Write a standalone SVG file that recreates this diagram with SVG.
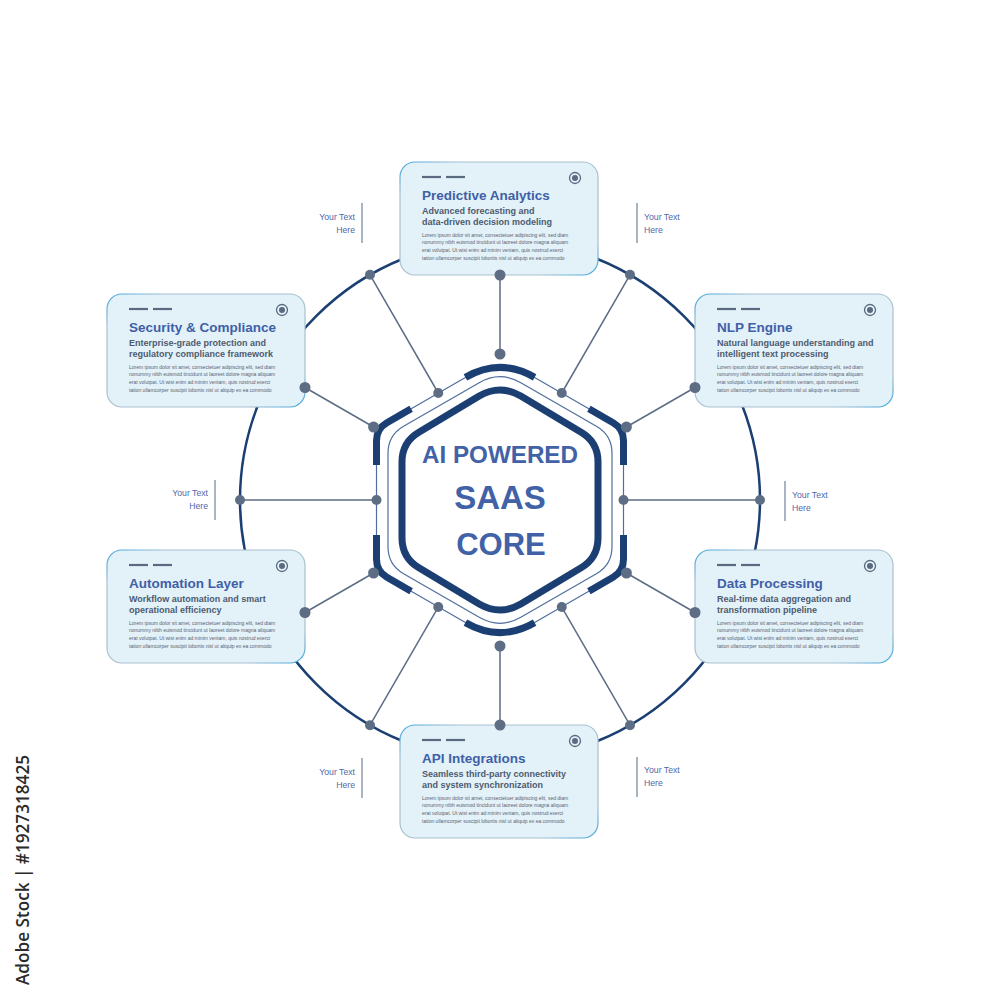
<svg xmlns="http://www.w3.org/2000/svg" width="1000" height="1000" viewBox="0 0 1000 1000">
  <defs>
    <linearGradient id="cardEdge" x1="0" y1="0" x2="1" y2="1">
      <stop offset="0" stop-color="#3aa3de"/>
      <stop offset="0.15" stop-color="#a9c1cf"/>
      <stop offset="0.85" stop-color="#a9c1cf"/>
      <stop offset="1" stop-color="#3aa3de"/>
    </linearGradient>
  </defs>
  <style>
    .ring-big { fill: none; stroke: #1b3f73; stroke-width: 2.5; }
    .card { fill: #e3f1f8; stroke: url(#cardEdge); stroke-width: 1.2; }
    .dash { stroke: #5a6a80; stroke-width: 2.2; }
    .icon-ring { fill: none; stroke: #5a6a80; stroke-width: 1.3; }
    .icon-dot { fill: #5a6a80; }
    .title { font-family: "Liberation Sans", Arial, sans-serif; font-weight: bold; font-size: 13.5px; fill: #3f5fa7; }
    .sub { font-family: "Liberation Sans", Arial, sans-serif; font-weight: bold; font-size: 9px; fill: #4d5b70; }
    .lorem { font-family: "Liberation Sans", Arial, sans-serif; font-size: 5px; fill: #5b6372; }
    .conn { stroke: #5c6d85; stroke-width: 1.5; fill: none; }
    .dot { fill: #5d6d84; }
    .hex-thick { fill: none; stroke: #1b3f73; stroke-width: 7; stroke-linejoin: round; }
    .hex-thin { fill: none; stroke: #4f6e9e; stroke-width: 1.2; }
    .seg { fill: none; stroke: #1b3f73; stroke-width: 7; stroke-linecap: butt; stroke-linejoin: round; }
    .core { font-family: "Liberation Sans", Arial, sans-serif; font-weight: bold; fill: #4262a8; text-anchor: middle; }
    .yt { font-family: "Liberation Sans", Arial, sans-serif; font-size: 8.7px; fill: #4f68aa; }
    .yt-r { text-anchor: end; }
    .bar { stroke: #8d9bb0; stroke-width: 1.5; }
    .wm { font-family: "Open Sans", "DejaVu Sans", sans-serif; font-size: 18px; font-weight: 600; fill: #2b2b2b; }
  </style>

  <rect width="1000" height="1000" fill="#ffffff"/>

  <!-- outer ring (behind cards) -->
  <g id="ring">
    <circle class="ring-big" cx="500" cy="500" r="260"/>
  </g>

  <!-- nodes: cards -->
  <g id="node-predictive" transform="translate(400,162)">
    <rect class="card" x="0" y="0" width="198" height="113" rx="15"/>
    <line class="dash" x1="22" y1="15" x2="41" y2="15"/>
    <line class="dash" x1="46" y1="15" x2="65" y2="15"/>
    <circle class="icon-ring" cx="175" cy="16" r="5.5"/>
    <circle class="icon-dot" cx="175" cy="16" r="3"/>
    <text class="title" x="22" y="37.5">Predictive Analytics</text>
    <text class="sub" x="22" y="52">Advanced forecasting and</text>
    <text class="sub" x="22" y="62.5">data-driven decision modeling</text>
    <text class="lorem" x="22" y="74.5">Lorem ipsum dolor sit amet, consectetuer adipiscing elit, sed diam</text>
    <text class="lorem" x="22" y="82.2">nonummy nibh euismod tincidunt ut laoreet dolore magna aliquam</text>
    <text class="lorem" x="22" y="89.9">erat volutpat. Ut wisi enim ad minim veniam, quis nostrud exerci</text>
    <text class="lorem" x="22" y="97.6">tation ullamcorper suscipit lobortis nisl ut aliquip ex ea commodo</text>
  </g>

  <g id="node-security" transform="translate(107,294)">
    <rect class="card" x="0" y="0" width="198" height="113" rx="15"/>
    <line class="dash" x1="22" y1="15" x2="41" y2="15"/>
    <line class="dash" x1="46" y1="15" x2="65" y2="15"/>
    <circle class="icon-ring" cx="175" cy="16" r="5.5"/>
    <circle class="icon-dot" cx="175" cy="16" r="3"/>
    <text class="title" x="22" y="37.5">Security &amp; Compliance</text>
    <text class="sub" x="22" y="52">Enterprise-grade protection and</text>
    <text class="sub" x="22" y="62.5">regulatory compliance framework</text>
    <text class="lorem" x="22" y="74.5">Lorem ipsum dolor sit amet, consectetuer adipiscing elit, sed diam</text>
    <text class="lorem" x="22" y="82.2">nonummy nibh euismod tincidunt ut laoreet dolore magna aliquam</text>
    <text class="lorem" x="22" y="89.9">erat volutpat. Ut wisi enim ad minim veniam, quis nostrud exerci</text>
    <text class="lorem" x="22" y="97.6">tation ullamcorper suscipit lobortis nisl ut aliquip ex ea commodo</text>
  </g>

  <g id="node-nlp" transform="translate(695,294)">
    <rect class="card" x="0" y="0" width="198" height="113" rx="15"/>
    <line class="dash" x1="22" y1="15" x2="41" y2="15"/>
    <line class="dash" x1="46" y1="15" x2="65" y2="15"/>
    <circle class="icon-ring" cx="175" cy="16" r="5.5"/>
    <circle class="icon-dot" cx="175" cy="16" r="3"/>
    <text class="title" x="22" y="37.5">NLP Engine</text>
    <text class="sub" x="22" y="52">Natural language understanding and</text>
    <text class="sub" x="22" y="62.5">intelligent text processing</text>
    <text class="lorem" x="22" y="74.5">Lorem ipsum dolor sit amet, consectetuer adipiscing elit, sed diam</text>
    <text class="lorem" x="22" y="82.2">nonummy nibh euismod tincidunt ut laoreet dolore magna aliquam</text>
    <text class="lorem" x="22" y="89.9">erat volutpat. Ut wisi enim ad minim veniam, quis nostrud exerci</text>
    <text class="lorem" x="22" y="97.6">tation ullamcorper suscipit lobortis nisl ut aliquip ex ea commodo</text>
  </g>

  <g id="node-automation" transform="translate(107,550)">
    <rect class="card" x="0" y="0" width="198" height="113" rx="15"/>
    <line class="dash" x1="22" y1="15" x2="41" y2="15"/>
    <line class="dash" x1="46" y1="15" x2="65" y2="15"/>
    <circle class="icon-ring" cx="175" cy="16" r="5.5"/>
    <circle class="icon-dot" cx="175" cy="16" r="3"/>
    <text class="title" x="22" y="37.5">Automation Layer</text>
    <text class="sub" x="22" y="52">Workflow automation and smart</text>
    <text class="sub" x="22" y="62.5">operational efficiency</text>
    <text class="lorem" x="22" y="74.5">Lorem ipsum dolor sit amet, consectetuer adipiscing elit, sed diam</text>
    <text class="lorem" x="22" y="82.2">nonummy nibh euismod tincidunt ut laoreet dolore magna aliquam</text>
    <text class="lorem" x="22" y="89.9">erat volutpat. Ut wisi enim ad minim veniam, quis nostrud exerci</text>
    <text class="lorem" x="22" y="97.6">tation ullamcorper suscipit lobortis nisl ut aliquip ex ea commodo</text>
  </g>

  <g id="node-data" transform="translate(695,550)">
    <rect class="card" x="0" y="0" width="198" height="113" rx="15"/>
    <line class="dash" x1="22" y1="15" x2="41" y2="15"/>
    <line class="dash" x1="46" y1="15" x2="65" y2="15"/>
    <circle class="icon-ring" cx="175" cy="16" r="5.5"/>
    <circle class="icon-dot" cx="175" cy="16" r="3"/>
    <text class="title" x="22" y="37.5">Data Processing</text>
    <text class="sub" x="22" y="52">Real-time data aggregation and</text>
    <text class="sub" x="22" y="62.5">transformation pipeline</text>
    <text class="lorem" x="22" y="74.5">Lorem ipsum dolor sit amet, consectetuer adipiscing elit, sed diam</text>
    <text class="lorem" x="22" y="82.2">nonummy nibh euismod tincidunt ut laoreet dolore magna aliquam</text>
    <text class="lorem" x="22" y="89.9">erat volutpat. Ut wisi enim ad minim veniam, quis nostrud exerci</text>
    <text class="lorem" x="22" y="97.6">tation ullamcorper suscipit lobortis nisl ut aliquip ex ea commodo</text>
  </g>

  <g id="node-api" transform="translate(400,725)">
    <rect class="card" x="0" y="0" width="198" height="113" rx="15"/>
    <line class="dash" x1="22" y1="15" x2="41" y2="15"/>
    <line class="dash" x1="46" y1="15" x2="65" y2="15"/>
    <circle class="icon-ring" cx="175" cy="16" r="5.5"/>
    <circle class="icon-dot" cx="175" cy="16" r="3"/>
    <text class="title" x="22" y="37.5">API Integrations</text>
    <text class="sub" x="22" y="52">Seamless third-party connectivity</text>
    <text class="sub" x="22" y="62.5">and system synchronization</text>
    <text class="lorem" x="22" y="74.5">Lorem ipsum dolor sit amet, consectetuer adipiscing elit, sed diam</text>
    <text class="lorem" x="22" y="82.2">nonummy nibh euismod tincidunt ut laoreet dolore magna aliquam</text>
    <text class="lorem" x="22" y="89.9">erat volutpat. Ut wisi enim ad minim veniam, quis nostrud exerci</text>
    <text class="lorem" x="22" y="97.6">tation ullamcorper suscipit lobortis nisl ut aliquip ex ea commodo</text>
  </g>

  <!-- connectors -->
  <g id="connectors">
    <line class="conn" x1="500" y1="275" x2="500" y2="354"/>
    <line class="conn" x1="500" y1="725" x2="500" y2="646"/>
    <line class="conn" x1="370" y1="274.8" x2="438.25" y2="393"/>
    <line class="conn" x1="630" y1="274.8" x2="561.75" y2="393"/>
    <line class="conn" x1="370" y1="725.2" x2="438.25" y2="607"/>
    <line class="conn" x1="630" y1="725.2" x2="561.75" y2="607"/>
    <line class="conn" x1="240" y1="500" x2="376.5" y2="500"/>
    <line class="conn" x1="760" y1="500" x2="623.5" y2="500"/>
    <line class="conn" x1="305" y1="387.5" x2="373.6" y2="427"/>
    <line class="conn" x1="695" y1="387.5" x2="626.4" y2="427"/>
    <line class="conn" x1="305" y1="612.5" x2="373.6" y2="573"/>
    <line class="conn" x1="695" y1="612.5" x2="626.4" y2="573"/>
  </g>

  <!-- center hub -->
  <g id="node-core">
    <path class="hex-thin" d="M465.4,377.4 Q500,357.4 534.6,377.4 L613.1,422.7 Q623.5,428.7 623.5,440.7 L623.5,559.3 Q623.5,571.3 613.1,577.3 L534.6,622.6 Q500,642.6 465.4,622.6 L386.9,577.3 Q376.5,571.3 376.5,559.3 L376.5,440.7 Q376.5,428.7 386.9,422.7 Z"/>
    <path class="seg" d="M465.4,377.4 Q500,357.4 534.6,377.4"/>
    <path class="seg" d="M588.9,408.7 L613.1,422.7 Q623.5,428.7 623.5,440.7 L623.5,465"/>
    <path class="seg" d="M623.5,535 L623.5,559.3 Q623.5,571.3 613.1,577.3 L588.9,591.3"/>
    <path class="seg" d="M534.6,622.6 Q500,642.6 465.4,622.6"/>
    <path class="seg" d="M411.1,591.3 L386.9,577.3 Q376.5,571.3 376.5,559.3 L376.5,535"/>
    <path class="seg" d="M376.5,465 L376.5,440.7 Q376.5,428.7 386.9,422.7 L411.1,408.7"/>
    <path class="hex-thin" d="M479.2,382.7 Q500,370.7 520.8,382.7 L596.4,426.3 Q612,435.3 612,453.3 L612,546.7 Q612,564.7 596.4,573.7 L520.8,617.3 Q500,629.3 479.2,617.3 L403.6,573.7 Q388,564.7 388,546.7 L388,453.3 Q388,435.3 403.6,426.3 Z"/>
    <path class="hex-thick" d="M479.2,396 Q500,384 520.8,396 L580.7,432 Q598,442 598,462 L598,538 Q598,558 580.7,568 L520.8,604 Q500,616 479.2,604 L419.3,568 Q402,558 402,538 L402,462 Q402,442 419.3,432 Z"/>
    <text class="core" x="500" y="462.5" font-size="23" textLength="156" lengthAdjust="spacingAndGlyphs">AI POWERED</text>
    <text class="core" x="500" y="508.5" font-size="33">SAAS</text>
    <text class="core" x="501" y="555" font-size="31">CORE</text>
  </g>

  <!-- connector dots -->
  <g id="connector-dots">
    <circle class="dot" cx="500" cy="275" r="5.5"/>
    <circle class="dot" cx="500" cy="725" r="5.5"/>
    <circle class="dot" cx="500" cy="354" r="5.5"/>
    <circle class="dot" cx="500" cy="646" r="5.5"/>
    <circle class="dot" cx="370" cy="274.8" r="5"/>
    <circle class="dot" cx="630" cy="274.8" r="5"/>
    <circle class="dot" cx="370" cy="725.2" r="5"/>
    <circle class="dot" cx="630" cy="725.2" r="5"/>
    <circle class="dot" cx="240" cy="500" r="5"/>
    <circle class="dot" cx="760" cy="500" r="5"/>
    <circle class="dot" cx="438.25" cy="393" r="5"/>
    <circle class="dot" cx="561.75" cy="393" r="5"/>
    <circle class="dot" cx="438.25" cy="607" r="5"/>
    <circle class="dot" cx="561.75" cy="607" r="5"/>
    <circle class="dot" cx="376.5" cy="500" r="5"/>
    <circle class="dot" cx="623.5" cy="500" r="5"/>
    <circle class="dot" cx="373.6" cy="427" r="5.5"/>
    <circle class="dot" cx="626.4" cy="427" r="5.5"/>
    <circle class="dot" cx="373.6" cy="573" r="5.5"/>
    <circle class="dot" cx="626.4" cy="573" r="5.5"/>
    <circle class="dot" cx="305" cy="387.5" r="5.5"/>
    <circle class="dot" cx="695" cy="387.5" r="5.5"/>
    <circle class="dot" cx="305" cy="612.5" r="5.5"/>
    <circle class="dot" cx="695" cy="612.5" r="5.5"/>
  </g>

  <!-- Your Text Here labels -->
  <g id="labels">
    <line class="bar" x1="362" y1="203" x2="362" y2="243"/>
    <text class="yt yt-r" x="355" y="220">Your Text</text>
    <text class="yt yt-r" x="355" y="233">Here</text>

    <line class="bar" x1="637" y1="203" x2="637" y2="243"/>
    <text class="yt" x="644" y="219.5">Your Text</text>
    <text class="yt" x="644" y="232.5">Here</text>

    <line class="bar" x1="215" y1="480" x2="215" y2="520"/>
    <text class="yt yt-r" x="208" y="496">Your Text</text>
    <text class="yt yt-r" x="208" y="509">Here</text>

    <line class="bar" x1="785" y1="481" x2="785" y2="521"/>
    <text class="yt" x="792" y="498">Your Text</text>
    <text class="yt" x="792" y="511">Here</text>

    <line class="bar" x1="362" y1="758" x2="362" y2="798"/>
    <text class="yt yt-r" x="355" y="775">Your Text</text>
    <text class="yt yt-r" x="355" y="788">Here</text>

    <line class="bar" x1="637" y1="757" x2="637" y2="797"/>
    <text class="yt" x="644" y="773">Your Text</text>
    <text class="yt" x="644" y="786">Here</text>
  </g>

  <text class="wm" transform="translate(28.5,985) rotate(-90)" x="0" y="0" textLength="230" lengthAdjust="spacingAndGlyphs">Adobe Stock | #1927318425</text>
</svg>
